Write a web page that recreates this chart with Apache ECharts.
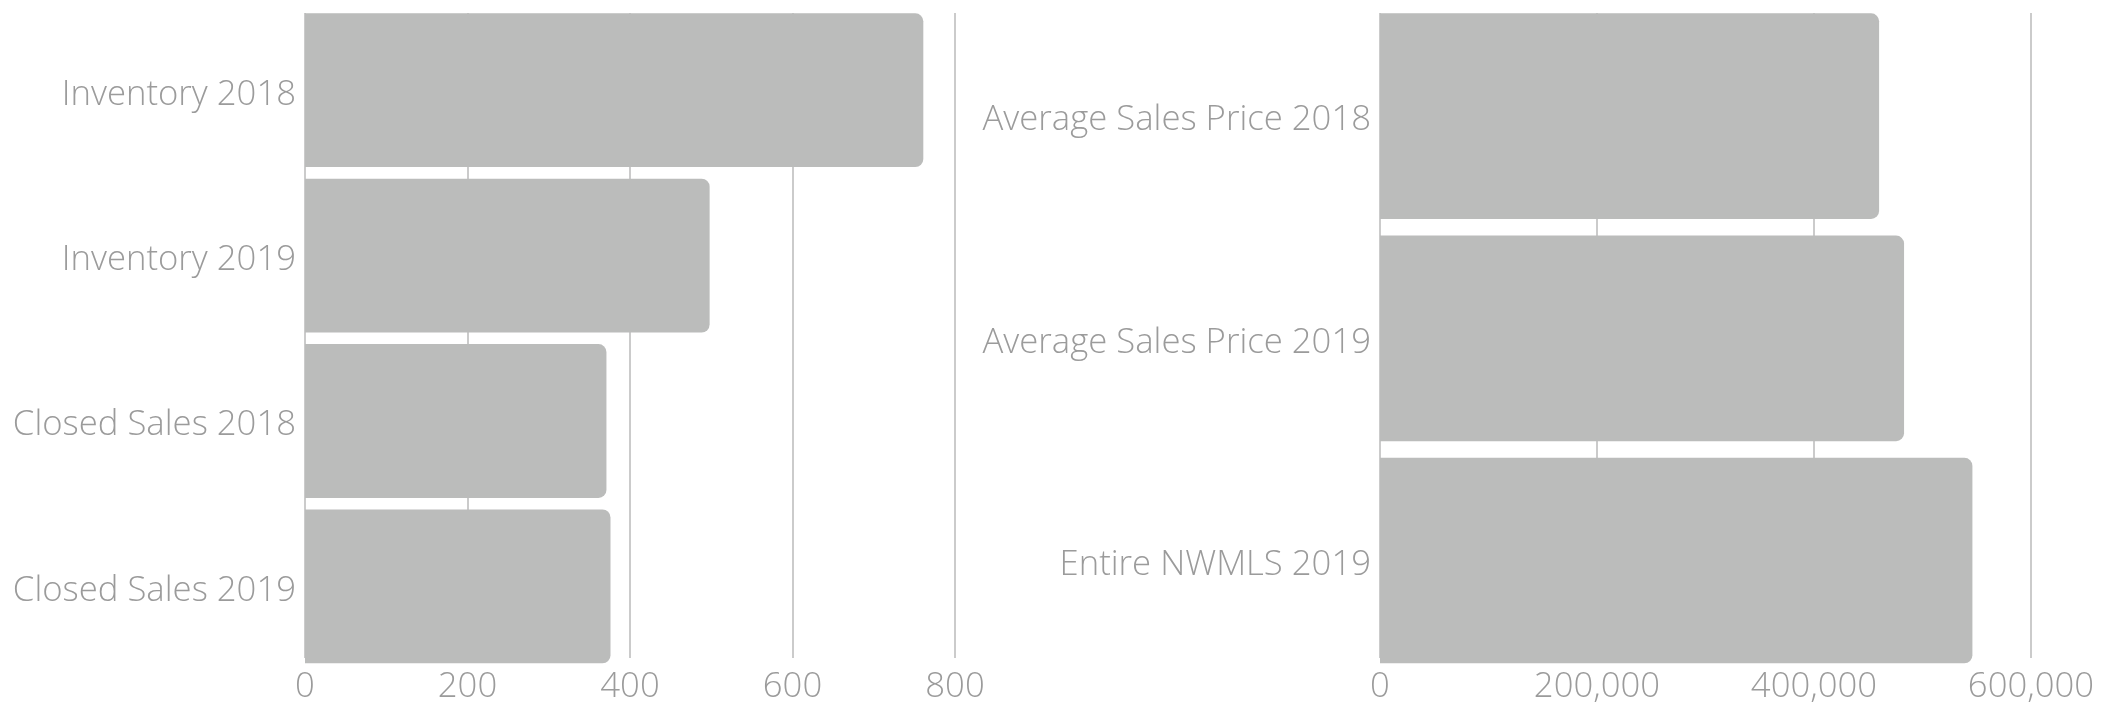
<!DOCTYPE html>
<html>
<head>
<meta charset="utf-8">
<script src="https://cdn.jsdelivr.net/npm/echarts@6/dist/echarts.min.js"></script>
<style>
  html, body { margin: 0; padding: 0; background: #fff; }
  #chart { width: 2111px; height: 705px; }
</style>
</head>
<body>
<div id="chart"></div>
<script>
// left panel: counts
const countCategories = ['Inventory 2018', 'Inventory 2019', 'Closed Sales 2018', 'Closed Sales 2019'];
const countValues = [761, 498, 371, 376];
const countTicks = [0, 200, 400, 600, 800];

// right panel: prices
const priceCategories = ['Average Sales Price 2018', 'Average Sales Price 2019', 'Entire NWMLS 2019'];
const priceValues = [460000, 483000, 546000];
const priceTicks = [0, 200000, 400000, 600000];

const FONT = '"Open Sans", "Noto Sans", sans-serif';
const TEXT = '#9b9b9b';
const GRID_LINE = '#cbcbcb';
const BAR = '#bbbcbb';

const chart = echarts.init(document.getElementById('chart'), null, { renderer: 'canvas' });

const labelStyle = { color: TEXT, fontSize: 34.7, fontFamily: FONT, fontWeight: 300 };

// axis grid (gridlines + tick labels) and a bar grid slightly taller, so bars touch top/bottom
const valueAxis = (gridIndex, ticks, show) => ({
  type: 'value',
  gridIndex,
  min: ticks[0],
  max: ticks[ticks.length - 1],
  interval: ticks[1] - ticks[0],
  show,
  axisLine: { show: false },
  axisTick: { show: false },
  axisLabel: Object.assign({ margin: 12, formatter: v => v.toLocaleString('en-US') }, labelStyle),
  splitLine: { show, lineStyle: { color: GRID_LINE, width: 2 } }
});

const catAxis = (gridIndex, data, show) => ({
  type: 'category',
  gridIndex,
  data,
  inverse: true,
  show,
  axisLine: { show: false },
  axisTick: { show: false },
  axisLabel: Object.assign({
    margin: 9,
    formatter: v => '{t|' + v + '}',
    rich: { t: Object.assign({ padding: [9, 0, 0, 0] }, labelStyle) }
  }, labelStyle),
  splitLine: { show: false }
});

const option = {
  backgroundColor: '#fff',
  animation: false,
  grid: [
    { left: 305, width: 650, top: 13, height: 650 },
    { left: 305, width: 650, top: 7.5, height: 661.6 },
    { left: 1380, width: 651, top: 13, height: 650 },
    { left: 1380, width: 651, top: 5, height: 666.7 }
  ],
  xAxis: [
    valueAxis(0, countTicks, true),
    valueAxis(1, countTicks, false),
    valueAxis(2, priceTicks, true),
    valueAxis(3, priceTicks, false)
  ],
  yAxis: [
    catAxis(0, countCategories, false),
    catAxis(1, countCategories, true),
    catAxis(2, priceCategories, false),
    catAxis(3, priceCategories, true)
  ],
  series: [
    {
      type: 'bar',
      xAxisIndex: 1,
      yAxisIndex: 1,
      data: countValues,
      barCategoryGap: '7%',
      itemStyle: { color: BAR, borderRadius: [0, 8, 8, 0] },
      silent: true
    },
    {
      type: 'bar',
      xAxisIndex: 3,
      yAxisIndex: 3,
      data: priceValues,
      barCategoryGap: '7.5%',
      itemStyle: { color: BAR, borderRadius: [0, 8, 8, 0] },
      silent: true
    }
  ]
};

chart.setOption(option);
window.addEventListener('resize', () => chart.resize());
</script>
</body>
</html>
